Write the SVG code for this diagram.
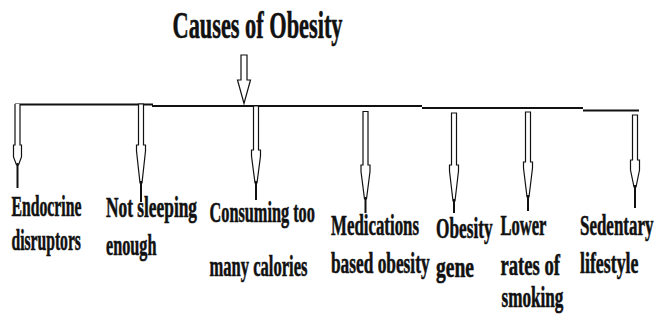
<svg xmlns="http://www.w3.org/2000/svg" width="656" height="320" viewBox="0 0 656 320">
<style>
  .t{font-family:"Liberation Serif","Times New Roman",serif;font-weight:bold;fill:#111;stroke:#111;stroke-width:0.6;}
  .lbl{font-size:30px;}
  .title{font-size:38px;}
  .bar{stroke:#111;stroke-width:2;fill:none;}
  .arr{stroke:#111;stroke-width:1.2;fill:#fff;stroke-linejoin:miter;}
  .tip{stroke:#111;stroke-width:2;}
</style>
<rect width="656" height="320" fill="#fff"/>
<g id="title">
  <text class="t title" transform="translate(172.5,38) scale(0.588,1)">Causes of Obesity</text>
</g>
<g id="connectors">
  <path class="arr" d="M241,55 H247 V80 H250.5 L244,103.5 L237.5,80 H241 Z"/>
  <line class="bar" x1="15" y1="104.5" x2="153" y2="104.5"/>
  <line class="bar" x1="152" y1="106" x2="422" y2="106"/>
  <line class="bar" x1="422" y1="108" x2="583" y2="108"/>
  <line class="bar" x1="583" y1="110.5" x2="639" y2="110.5"/>
  <path class="arr" d="M15,104 V145 H13.5 V157 L16.5,165 H18.5 L21.5,157 V145 H20 V104"/>
  <line class="tip" x1="17.5" y1="163" x2="17.5" y2="188"/>
  <path class="arr" d="M138.5,104 V145 H136.5 V151 L140,183 H142 L145.5,151 V145 H143.5 V104 Z"/>
  <line class="tip" x1="141" y1="181" x2="141" y2="202"/>
  <path class="arr" d="M253.5,106 V150 H251.5 V156 L255,183 H257 L260.5,156 V150 H258.5 V106 Z"/>
  <line class="tip" x1="256" y1="181" x2="256" y2="200"/>
  <path class="arr" d="M363,111.5 V165 H361 V171.5 L364.5,199 H366.5 L370,171.5 V165 H368 V111.5 Z"/>
  <line class="tip" x1="365.5" y1="197" x2="365.5" y2="213"/>
  <path class="arr" d="M451.5,113 V165 H449.5 V171 L453,201 H455 L458.5,171 V165 H456.5 V113 Z"/>
  <line class="tip" x1="454" y1="199" x2="454" y2="213"/>
  <path class="arr" d="M525.5,112 V162 H523.5 V168 L527,197 H529 L532.5,168 V162 H530.5 V112 Z"/>
  <line class="tip" x1="528" y1="195" x2="528" y2="211"/>
  <path class="arr" d="M632.5,115 V160 H630.5 V170 L634,187 H636 L639.5,170 V160 H637.5 V115 Z"/>
  <line class="tip" x1="635" y1="185" x2="635" y2="208"/>
</g>
<g id="endocrine">
  <text class="t lbl" transform="translate(11.5,216) scale(0.525,1)">Endocrine</text>
  <text class="t lbl" transform="translate(11.5,250) scale(0.521,1)">disruptors</text>
</g>
<g id="sleep">
  <text class="t lbl" transform="translate(106,217) scale(0.578,1)">Not sleeping</text>
  <text class="t lbl" transform="translate(106,255) scale(0.541,1)">enough</text>
</g>
<g id="calories">
  <text class="t lbl" transform="translate(209.5,222) scale(0.543,1)">Consuming too</text>
  <text class="t lbl" transform="translate(209.5,276) scale(0.552,1)">many calories</text>
</g>
<g id="medications">
  <text class="t lbl" transform="translate(331,235) scale(0.562,1)">Medications</text>
  <text class="t lbl" transform="translate(331,273) scale(0.577,1)">based obesity</text>
</g>
<g id="gene">
  <text class="t lbl" transform="translate(436,238) scale(0.575,1)">Obesity</text>
  <text class="t lbl" transform="translate(436,277) scale(0.652,1)">gene</text>
</g>
<g id="smoking">
  <text class="t lbl" transform="translate(500.5,235) scale(0.552,1)">Lower</text>
  <text class="t lbl" transform="translate(500.5,275) scale(0.621,1)">rates of</text>
  <text class="t lbl" transform="translate(501.5,307) scale(0.572,1)">smoking</text>
</g>
<g id="sedentary">
  <text class="t lbl" transform="translate(580,235) scale(0.565,1)">Sedentary</text>
  <text class="t lbl" transform="translate(580,273) scale(0.595,1)">lifestyle</text>
</g>
</svg>
